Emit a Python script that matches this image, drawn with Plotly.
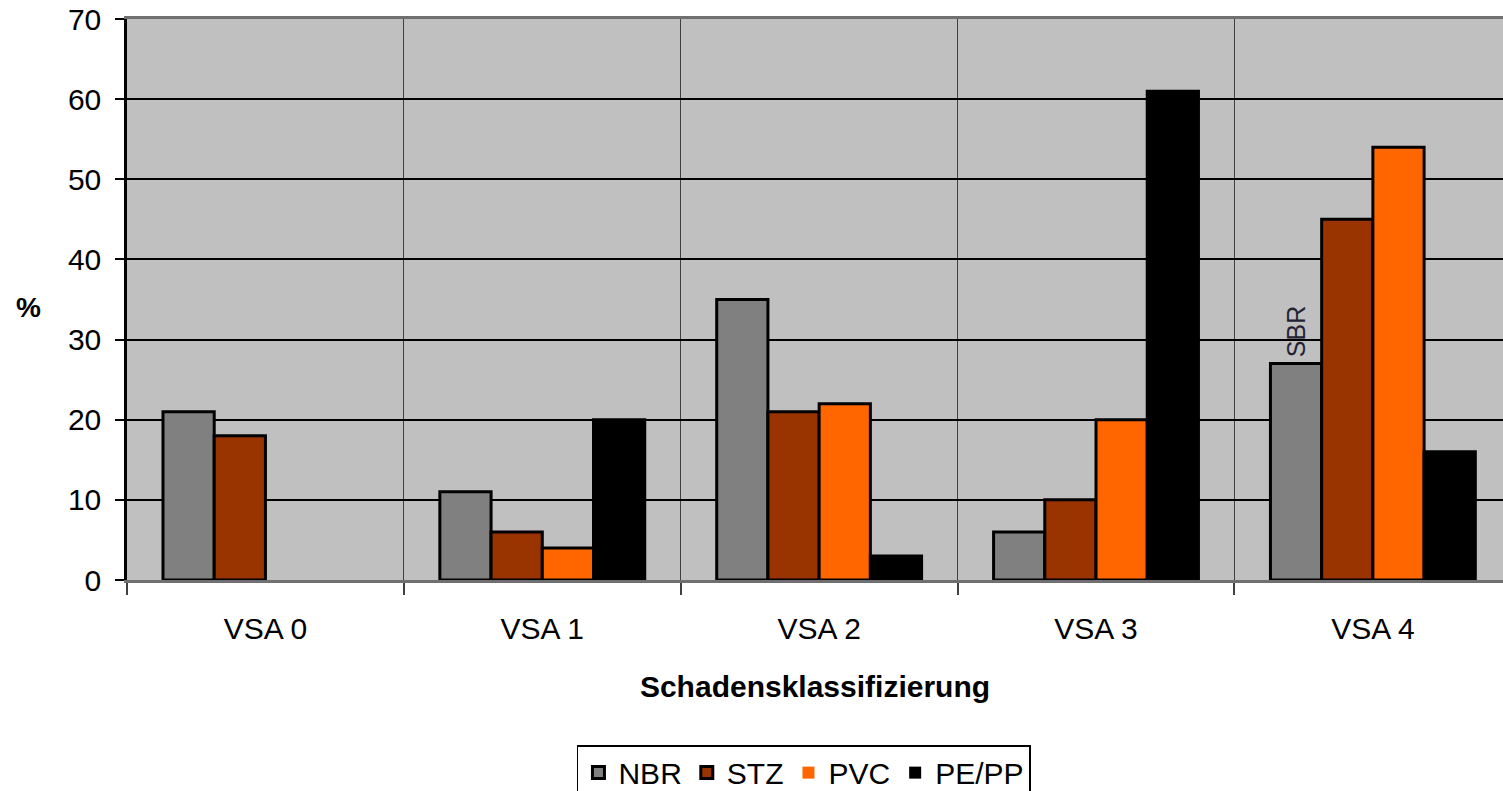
import plotly.graph_objects as go

categories = ["VSA 0", "VSA 1", "VSA 2", "VSA 3", "VSA 4"]
series_names = ["NBR", "STZ", "PVC", "PE/PP"]
nbr = [21, 11, 35, 6, 27]
stz = [18, 6, 21, 10, 45]
pvc = [0, 4, 22, 20, 54]
pe_pp = [0, 20, 3, 61, 16]
y_ticks = [0, 10, 20, 30, 40, 50, 60, 70]

colors = ["#808080", "#993300", "#FF6600", "#000000"]
font = "Liberation Sans, Arial, sans-serif"

xpos = list(range(len(categories)))
fig = go.Figure()
for name, vals, col in zip(series_names, [nbr, stz, pvc, pe_pp], colors):
    # empty bars get no outline
    widths = [3 if v > 0 else 0 for v in vals]
    fig.add_trace(go.Bar(
        x=xpos, y=vals, name=name,
        marker=dict(color=col, line=dict(color="#000000", width=widths)),
    ))

# rotated label above the NBR bar in the last group
fig.add_annotation(
    x=xpos[4] - 0.2775, y=nbr[4], text="SBR", textangle=-90,
    showarrow=False, xanchor="center", yanchor="bottom", yshift=4,
    font=dict(family=font, size=25, color="#222233"),
)

# "%" axis label, set horizontally to the left of the value axis
fig.add_annotation(
    xref="paper", yref="paper", x=-0.082, y=0.485, text="<b>%</b>",
    showarrow=False, font=dict(family=font, size=28, color="#000000"),
)

fig.update_layout(
    width=1503, height=791,
    margin=dict(l=127, r=0, t=19, b=211),
    paper_bgcolor="#FFFFFF", plot_bgcolor="#C0C0C0",
    barmode="group", bargap=0.26, bargroupgap=0,
    font=dict(family=font, size=30, color="#000000"),
    showlegend=True,
    legend=dict(
        orientation="h", xref="paper", yref="container",
        x=0.327, xanchor="left", y=0.058, yanchor="top",
        bordercolor="#000000", borderwidth=1.5, bgcolor="#FFFFFF",
        font=dict(family=font, size=30), itemwidth=30,
        traceorder="normal", tracegroupgap=0,
    ),
    xaxis=dict(
        range=[-0.5, 4.47], tickvals=xpos, ticktext=categories,
        showgrid=False, ticks="", tickfont=dict(size=30),
        ticklabelstandoff=20,
        showline=True, linecolor="#707070", linewidth=3, mirror=True,
        minor=dict(tick0=0.5, dtick=1, showgrid=True, gridcolor="#404040",
                   gridwidth=1, ticks="outside", ticklen=12,
                   tickcolor="#404040", tickwidth=1.5),
        title=dict(text="<b>Schadensklassifizierung</b>",
                   font=dict(family=font, size=30), standoff=32),
        zeroline=False, fixedrange=True, automargin=False,
    ),
    yaxis=dict(
        range=[0, 70], tickvals=y_ticks,
        showgrid=True, gridcolor="#000000", gridwidth=1.5,
        ticks="outside", ticklen=9, tickcolor="#000000", tickwidth=1.5,
        showline=True, linecolor="#000000", linewidth=2.5,
        zeroline=False, tickfont=dict(size=30), ticklabelstandoff=8,
        automargin=False,
    ),
)

fig.write_html("out.html")
